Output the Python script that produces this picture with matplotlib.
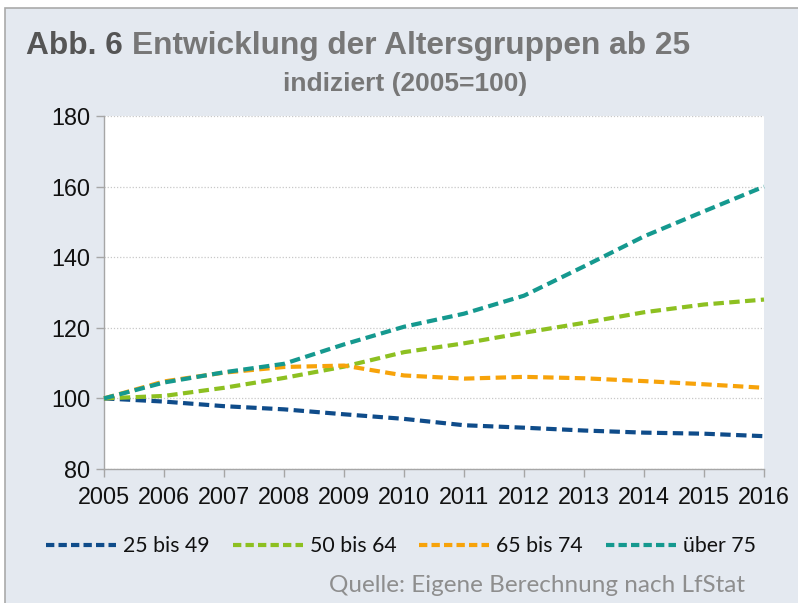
import matplotlib
matplotlib.use("Agg")
import matplotlib.pyplot as plt
from matplotlib.patches import Rectangle
from matplotlib.lines import Line2D

years = [2005, 2006, 2007, 2008, 2009, 2010, 2011, 2012, 2013, 2014, 2015, 2016]
s_25_49 = [100, 99.1, 97.8, 96.9, 95.5, 94.2, 92.4, 91.7, 90.9, 90.3, 90.0, 89.3]
s_50_64 = [100, 100.7, 103.0, 105.8, 109.0, 113.1, 115.6, 118.6, 121.4, 124.4, 126.6, 128.0]
s_65_74 = [100, 104.8, 107.3, 108.9, 109.3, 106.5, 105.6, 106.1, 105.7, 104.9, 104.0, 103.0]
s_75 = [100, 104.5, 107.4, 109.8, 115.3, 120.3, 124.0, 129.1, 137.4, 145.9, 153.0, 160.0]
labels = ["25 bis 49", "50 bis 64", "65 bis 74", "über 75"]
colors = ["#0F4C8A", "#8DC021", "#F7A30A", "#15998F"]
y_ticks = [80, 100, 120, 140, 160, 180]

W, H = 798, 603
fig = plt.figure(figsize=(W / 100, H / 100), dpi=100)
fig.patch.set_facecolor("white")
bg = Rectangle((5 / W, -0.1), 1.2, 1 - 8 / H + 0.1, transform=fig.transFigure,
               facecolor="#E4E9F0", edgecolor="#AAAAAA", linewidth=1.2, zorder=-10)
fig.patches.append(bg)

ax = fig.add_axes([104 / W, 1 - 469 / H, (764 - 104) / W, (469 - 116) / H])
ax.set_zorder(2)
ax.set_facecolor("white")

for vals, c in zip([s_25_49, s_50_64, s_65_74, s_75], colors):
    ax.plot(years, vals, color=c, linewidth=3.0, linestyle=(0, (2.5, 1.3)),
            dash_capstyle="butt", solid_joinstyle="round", zorder=3, clip_on=False)

ax.set_xlim(2005, 2016)
ax.set_ylim(80, 180)
ax.set_xticks(years)
ax.set_xticklabels([str(y) for y in years])
ax.set_yticks(y_ticks)
ax.set_yticklabels([str(v) for v in y_ticks])
ax.yaxis.grid(True, color="#C8C8C8", linestyle=(0, (1, 1.5)), linewidth=0.9)
ax.set_axisbelow(True)
for side in ["top", "right"]:
    ax.spines[side].set_visible(False)
for side in ["left", "bottom"]:
    ax.spines[side].set_color("#A6A6A6")
    ax.spines[side].set_linewidth(1.0)
ax.tick_params(axis="both", direction="out", length=6, width=1.0, color="#A6A6A6",
               labelsize=16.8, labelcolor="#111111")
ax.tick_params(axis="x", pad=6)
ax.tick_params(axis="y", pad=4)
for t in ax.get_xticklabels() + ax.get_yticklabels():
    t.set_fontfamily("Liberation Sans")

# Title
fig.canvas.draw()
r = fig.canvas.get_renderer()
ty = 1 - 46 / H
t_a = fig.text(26 / W, ty, "Abb. 6 ", fontsize=22.8, fontweight="bold", color="#555555",
               family="Liberation Sans", va="center", ha="left")
bb = t_a.get_window_extent(renderer=r)
fig.text(bb.x1 / W, ty, "Entwicklung der Altersgruppen ab 25", fontsize=22.8,
         fontweight="bold", color="#777777", family="Liberation Sans", va="center", ha="left")
fig.text(405 / W, 1 - 84 / H, "indiziert (2005=100)", fontsize=19, fontweight="bold",
         color="#777777", family="Liberation Sans", va="center", ha="center")

# Legend
handles = [Line2D([0], [0], color=c, linewidth=3.0, linestyle=(0, (2.0, 1.0))) for c in colors]
leg = fig.legend(handles, labels, loc="center", bbox_to_anchor=(401 / W, 1 - 546 / H),
                 ncol=4, frameon=False, handlelength=3.3, handletextpad=0.33,
                 columnspacing=1.08, borderpad=0.2, borderaxespad=0,
                 prop={"family": "Lato", "size": 15.3})
for t in leg.get_texts():
    t.set_color("#111111")

fig.text(745 / W, 1 - 585 / H, "Quelle: Eigene Berechnung nach LfStat", fontsize=17.5,
         color="#8E8E8E", family="Lato", ha="right", va="center")

fig.savefig("out.png", dpi=100, facecolor=fig.get_facecolor())
